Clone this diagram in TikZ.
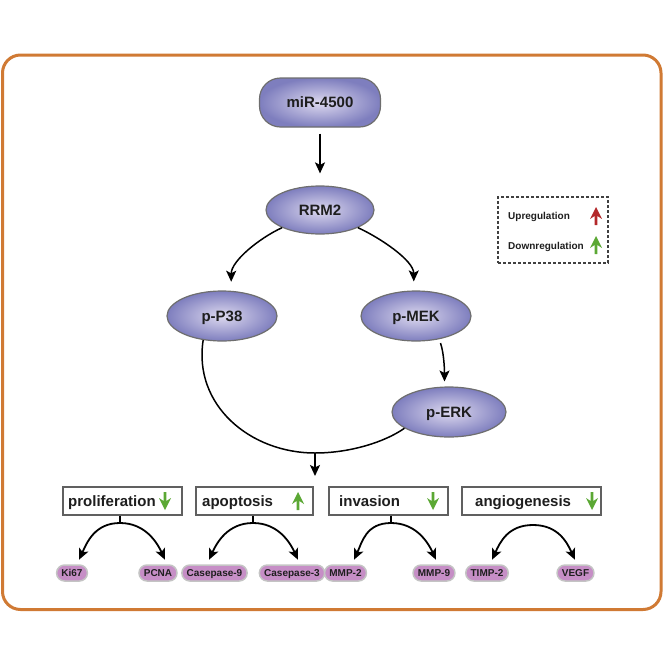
\documentclass[tikz,border=0pt]{standalone}
\usepackage{fontspec}
\setmainfont{Liberation Sans}
\usetikzlibrary{arrows.meta,shapes.geometric,shapes.misc,calc}
\definecolor{frameor}{HTML}{D07A34}
\definecolor{elout}{HTML}{7E7EBE}
\definecolor{elin}{HTML}{DDD9EF}
\definecolor{elbd}{HTML}{6E6E6E}
\definecolor{pillc}{HTML}{C68EC6}
\definecolor{pillbd}{HTML}{C4C4C4}
\definecolor{upred}{HTML}{B3282A}
\definecolor{dngreen}{HTML}{5BA834}
\definecolor{boxbd}{HTML}{606060}
\definecolor{txt}{HTML}{1E1E1E}
\tikzset{
  uparr/.pic={\fill[pic actions] (0,-9) -- (6,3) -- (1.4,0) -- (1.4,9) -- (-1.4,9) -- (-1.4,0) -- (-6,3) -- cycle;}
}
\begin{document}
\begin{tikzpicture}[x=1pt,y=-1pt,
  every node/.style={text=txt},
  ell/.style={ellipse, draw=elbd, line width=1.2pt, shade, shading=radial, inner color=elin, outer color=elout,
    minimum width=110pt, minimum height=50pt, inner sep=0pt, text height=10.7pt, text depth=0pt,
    font=\fontsize{15}{18}\selectfont\bfseries},
  mirbox/.style={rectangle, rounded corners=21pt, draw=elbd, line width=1.2pt, shade, shading=radial, inner color=elin, outer color=elout,
    minimum width=121pt, minimum height=49pt, inner sep=0pt, text height=10.7pt, text depth=0pt,
    font=\fontsize{15}{18}\selectfont\bfseries},
  procbox/.style={rectangle, draw=boxbd, line width=1.2pt, fill=white, minimum height=28pt, inner sep=0pt},
  boxtxt/.style={anchor=base west, inner sep=0pt, font=\fontsize{15}{18}\selectfont\bfseries},
  pill/.style={rounded rectangle, fill=pillc, draw=pillbd, line width=1.5pt, minimum height=16pt,
    inner xsep=4pt, inner ysep=0pt, text height=7.2pt, text depth=0pt, font=\fontsize{10}{12}\selectfont\bfseries},
  legtxt/.style={anchor=base west, inner sep=0pt, font=\fontsize{10}{12}\selectfont\bfseries},
  arr/.style={line width=1.5pt, -{Stealth[length=11pt,width=10pt,inset=2.5pt]}},
  arcarr/.style={line width=1.8pt, shorten >=5pt, -{Stealth[length=11pt,width=10pt,inset=2.5pt]}},
  stem/.style={line width=1.2pt},
  conn/.style={line width=1.5pt}
]
\useasboundingbox (0,0) rectangle (664,664);
\draw[frameor, line width=3pt, rounded corners=18pt] (2.5,55) rectangle (661,609.5);

% main nodes
\node[mirbox] (mir) at (320,102.5) {miR-4500};
\node[ell, minimum width=108pt, minimum height=48pt] (rrm2) at (320,210) {RRM2};
\node[ell] (pp38) at (222,316) {p-P38};
\node[ell] (pmek) at (416,316) {p-MEK};
\node[ell, minimum width=114pt] (perk) at (449,412) {p-ERK};

% connectors
\draw[arr, shorten <=6pt, shorten >=12pt] (mir) -- (rrm2);
\draw[arr, shorten >=9pt] (rrm2.205) .. controls +(-22,10) and +(0,-30) .. (pp38.70);
\draw[arr, shorten >=9pt] (rrm2.335) .. controls +(22,10) and +(0,-30) .. (pmek.95);
\draw[arr, shorten <=4pt, shorten >=5pt] (pmek.-45) .. controls +(5,15) and +(0,-15) .. (perk.100);
\coordinate (j) at (315,453);
\coordinate (jt) at (315,476);
\draw[conn] (pp38.232) .. controls (193,405) and (250,453) .. (j) .. controls (350,453) and (385,442) .. (perk.200);
\draw[arr] (j) -- (jt);

% legend
\node[draw=black!75, dash pattern=on 3pt off 2pt, line width=1.3pt, minimum width=110pt, minimum height=66pt, inner sep=0pt] (leg) at (553,230) {};
\node[legtxt] (lup) at (508,219.5) {Upregulation};
\node[legtxt] (ldn) at (508,249.5) {Downregulation};
\pic[fill=upred] at (596,216) {uparr};
\pic[fill=dngreen] at (596,245) {uparr};

% process boxes
\node[procbox, minimum width=119pt] (prol) at (122.5,501) {};
\node[boxtxt] (prolt) at (68,506) {proliferation};
\pic[fill=dngreen, rotate=180] at (165,501) {uparr};

\node[procbox, minimum width=117pt] (apop) at (254.5,501) {};
\node[boxtxt] (apopt) at (202,506) {apoptosis};
\pic[fill=dngreen] at (298,501) {uparr};

\node[procbox, minimum width=119pt] (inv) at (388.5,501) {};
\node[boxtxt] (invt) at (339,506) {invasion};
\pic[fill=dngreen, rotate=180] at (433,501) {uparr};

\node[procbox, minimum width=139pt] (ang) at (531.5,501) {};
\node[boxtxt] (angt) at (475,506) {angiogenesis};
\pic[fill=dngreen, rotate=180] at (592,501) {uparr};

% markers
\node[pill] (ki67) at (72,573) {Ki67};
\node[pill] (pcna) at (158,573) {PCNA};
\node[pill] (cas9) at (214.5,573) {Casepase-9};
\node[pill] (cas3) at (292,573) {Casepase-3};
\node[pill] (mmp2) at (345.5,573) {MMP-2};
\node[pill] (mmp9) at (434,573) {MMP-9};
\node[pill] (timp) at (487,573) {TIMP-2};
\node[pill] (vegf) at (575.5,573) {VEGF};

% bottom arcs
\coordinate (p1) at (120,523);
\draw[stem] (prol.south -| p1) -- (p1);
\draw[arcarr] (p1) .. controls +(-25,0) and +(10,-22) .. ([xshift=5pt]ki67.north);
\draw[arcarr] (p1) .. controls +(25,0) and +(-10,-22) .. ([xshift=9pt]pcna.north);

\coordinate (p2) at (253,523);
\draw[stem] (apop.south -| p2) -- (p2);
\draw[arcarr] (p2) .. controls +(-25,0) and +(10,-22) .. ([xshift=-7.5pt]cas9.north);
\draw[arcarr] (p2) .. controls +(25,0) and +(-10,-22) .. ([xshift=8pt]cas3.north);

\coordinate (p3) at (391,523);
\draw[stem] (inv.south -| p3) -- (p3);
\draw[arcarr] (p3) .. controls +(-25,0) and +(10,-22) .. ([xshift=6.5pt]mmp2.north);
\draw[arcarr] (p3) .. controls +(25,0) and +(-10,-22) .. ([xshift=4pt]mmp9.north);

\coordinate (p4) at (533,525);
\draw[arcarr] (p4) .. controls +(-25,0) and +(10,-22) .. ([xshift=3pt]timp.north);
\draw[arcarr] (p4) .. controls +(25,0) and +(-10,-22) .. ([xshift=1.5pt]vegf.north);
\end{tikzpicture}
\end{document}
